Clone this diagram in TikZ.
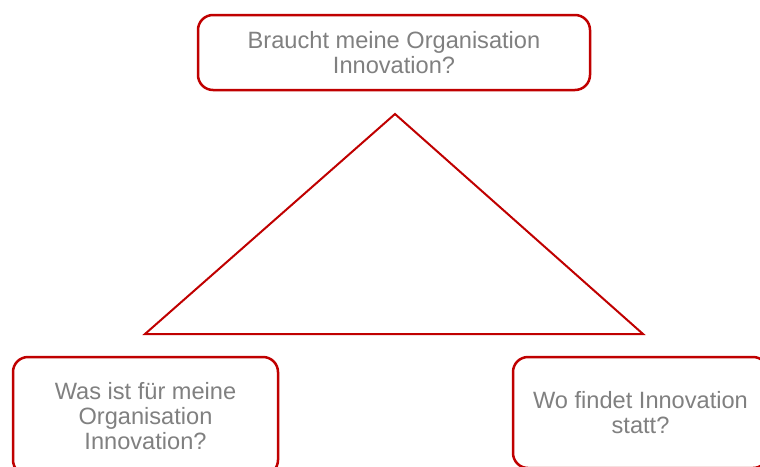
\documentclass[tikz,border=0pt]{standalone}
\usepackage{fontspec}
\setmainfont{Liberation Sans}
\definecolor{bordred}{HTML}{C00000}
\definecolor{txtgray}{HTML}{808080}
\begin{document}
\begin{tikzpicture}[x=1pt,y=-1pt,
  qbox/.style={draw=bordred, line width=2.5pt, rounded corners=15pt, fill=white,
    text=txtgray, align=center, inner sep=0pt,
    font=\fontsize{23.6}{24.6}\selectfont},
  tri/.style={draw=bordred, line width=2pt, line join=miter}]
\useasboundingbox (0,0) rectangle (760,466);
\clip (0,0) rectangle (760,466);
\fill[white] (0,0) rectangle (760,466);
\coordinate (apex) at (395,114);
\coordinate (bl) at (145,334);
\coordinate (br) at (643,334);
\draw[tri] (apex) -- (br) -- (bl) -- cycle;
\node[qbox, minimum width=392pt, minimum height=75pt] (top) at (394,52.5)
  {Braucht meine Organisation\\Innovation?};
\node[qbox, minimum width=265pt, minimum height=118pt] (left) at (145.5,416)
  {Was ist für meine\\Organisation\\Innovation?};
\node[qbox, minimum width=255pt, minimum height=111pt] (right) at (640.5,412.5)
  {Wo findet Innovation\\statt?};
\end{tikzpicture}
\end{document}
